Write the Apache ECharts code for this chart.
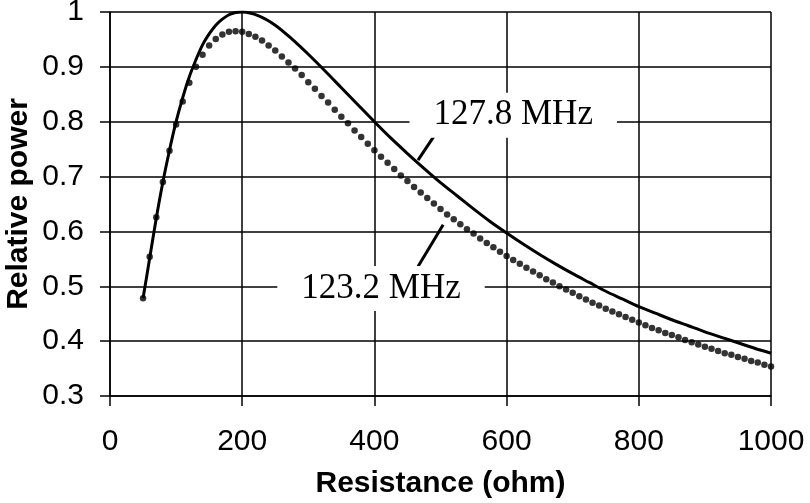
<!DOCTYPE html>
<html>
<head>
<meta charset="utf-8">
<script src="https://cdn.jsdelivr.net/npm/echarts@6/dist/echarts.min.js"></script>
<style>
html,body{margin:0;padding:0;background:#fff;}
#chart{width:810px;height:503px;}
</style>
</head>
<body>
<div id="chart"></div>
<script>
// Solid curve: 127.8 MHz
var solidR = [50,60,70,80,90,100,110,120,130,140,150,160,170,180,190,200,225,250,275,300,325,350,375,400,425,450,475,500,525,550,575,600,625,650,675,700,725,750,775,800,825,850,875,900,925,950,975,1000];
var solidP = [0.478,0.551,0.624,0.690,0.748,0.800,0.844,0.882,0.913,0.940,0.960,0.976,0.987,0.995,0.999,1.000,0.993,0.976,0.951,0.923,0.893,0.862,0.831,0.800,0.770,0.742,0.715,0.689,0.665,0.641,0.618,0.597,0.577,0.558,0.540,0.523,0.507,0.491,0.477,0.463,0.451,0.439,0.428,0.417,0.407,0.397,0.387,0.378];

// Dotted curve: 123.2 MHz (every 10 ohm, 50..1000)
var dotR = [];
for (var r = 50; r <= 1000; r += 10) dotR.push(r);
var dotP = [0.478,0.554,0.626,0.690,0.747,0.795,0.837,0.871,0.900,0.922,0.939,0.951,0.959,0.964,0.965,0.964,0.960,0.955,0.948,0.939,
0.930,0.919,0.908,0.897,0.885,0.872,0.860,0.847,0.835,0.822,0.809,0.797,0.784,0.772,0.760,0.748,0.736,0.725,0.714,0.702,
0.692,0.681,0.671,0.661,0.651,0.641,0.631,0.622,0.613,0.604,0.596,0.587,0.579,0.571,0.563,0.555,0.548,0.541,0.534,0.527,
0.520,0.513,0.507,0.500,0.494,0.488,0.482,0.476,0.470,0.465,0.459,0.454,0.449,0.444,0.439,0.434,0.429,0.424,0.420,0.415,
0.411,0.407,0.402,0.398,0.394,0.390,0.386,0.382,0.378,0.375,0.371,0.368,0.364,0.361,0.357,0.354];

var xTicks = {min:0, max:1000, interval:200};
var yTicks = {min:0.3, max:1, interval:0.1};

var label1 = {text:'127.8 MHz', at:[610, 0.812]};
var label2 = {text:'123.2 MHz', at:[410, 0.496]};
var leader1 = [[491, 0.775],[466, 0.730]];
var leader2 = [[504, 0.612],[466, 0.536]];

function zip(a,b){return a.map(function(v,i){return [v,b[i]];});}

var chart = echarts.init(document.getElementById('chart'), null, {renderer:'canvas'});
var axisFont = {fontFamily:'Liberation Sans, Arial, sans-serif', fontSize:30, color:'#000'};
var labelStyle = {
  show:true, position:'inside', color:'#000',
  fontFamily:'Liberation Serif, Times New Roman, serif', fontSize:35,
  backgroundColor:'#fff', padding:[5,24,5,24]
};
chart.setOption({
  animation:false,
  backgroundColor:'#fff',
  grid:{left:110, right:39, top:12, bottom:107, containLabel:false, outerBoundsMode:'none'},
  xAxis:{
    type:'value', min:xTicks.min, max:xTicks.max, interval:xTicks.interval,
    name:'Resistance (ohm)', nameLocation:'middle', nameGap:73, nameMoveOverlap:false,
    nameTextStyle:{fontFamily:'Liberation Sans, Arial, sans-serif', fontSize:30, fontWeight:'bold', color:'#000'},
    axisLine:{show:true, lineStyle:{color:'#000', width:1.5}},
    axisTick:{show:true, inside:false, length:10, lineStyle:{color:'#000', width:1.5}},
    axisLabel:Object.assign({margin:31, formatter:function(v){return String(v);}}, axisFont),
    splitLine:{show:true, lineStyle:{color:'#000', width:1.5}}
  },
  yAxis:{
    type:'value', min:yTicks.min, max:yTicks.max, interval:yTicks.interval,
    name:'Relative power', nameLocation:'middle', nameGap:76, nameRotate:90, nameMoveOverlap:false,
    nameTextStyle:{fontFamily:'Liberation Sans, Arial, sans-serif', fontSize:30, fontWeight:'bold', color:'#000'},
    axisLine:{show:true, lineStyle:{color:'#000', width:1.5}},
    axisTick:{show:true, inside:false, length:10, lineStyle:{color:'#000', width:1.5}},
    axisLabel:Object.assign({margin:26, formatter:function(v){return String(Math.round(v*10)/10);}}, axisFont),
    splitLine:{show:true, lineStyle:{color:'#000', width:1.5}}
  },
  series:[
    {
      name:'123.2 MHz', type:'scatter', data:zip(dotR, dotP),
      symbol:'circle', symbolSize:6.5, itemStyle:{color:'#000'}, z:3
    },
    {
      name:'127.8 MHz', type:'line', data:zip(solidR, solidP),
      smooth:0.3, showSymbol:false, lineStyle:{color:'#000', width:3}, z:4,
      markLine:{
        silent:true, symbol:['none','none'], label:{show:false},
        lineStyle:{color:'#000', width:3, type:'solid'},
        data:[
          [{coord:leader1[0]},{coord:leader1[1]}],
          [{coord:leader2[0]},{coord:leader2[1]}]
        ]
      },
      markPoint:{
        silent:true, symbol:'rect', symbolSize:1, itemStyle:{color:'rgba(0,0,0,0)'},
        label:labelStyle,
        data:[
          {coord:label1.at, value:label1.text, label:{formatter:label1.text}},
          {coord:label2.at, value:label2.text, label:{formatter:label2.text}}
        ]
      }
    }
  ]
});
</script>
</body>
</html>
